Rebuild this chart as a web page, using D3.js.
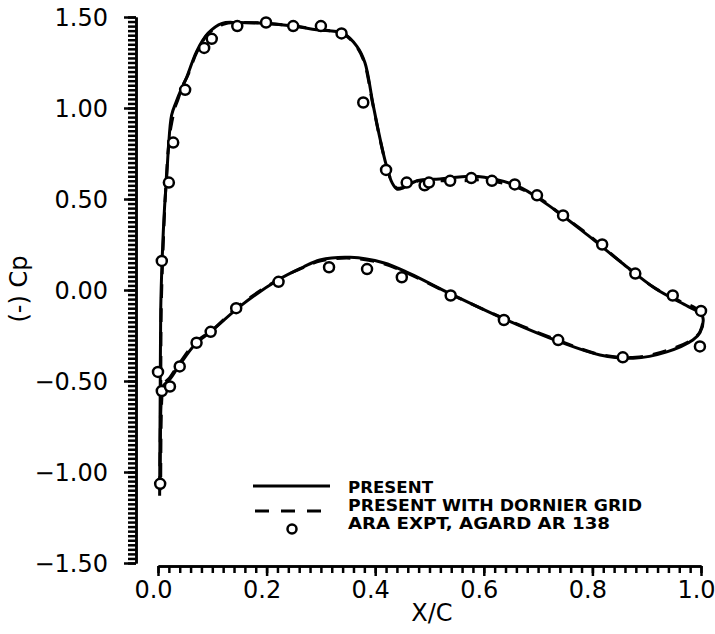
<!DOCTYPE html>
<html>
<head>
<meta charset="utf-8">
<script src="https://cdn.jsdelivr.net/npm/d3@7"></script>
<style>
  body { margin: 0; background: #fff; }
  svg { display: block; }
  .axis path, .axis line { stroke: #000; stroke-width: 2.5px; }
  .axis text { font-family: "DejaVu Sans", sans-serif; font-size: 24px; fill: #000; }
  .legend text { font-family: "Liberation Sans Narrow", "DejaVu Sans Condensed", sans-serif; font-weight: bold; font-size: 15px; }
</style>
</head>
<body>
<svg id="chart"></svg>
<script>
var w = 715;
var h = 634;

// PRESENT (solid) : from stagnation point up the upper surface, round the TE, back along the lower surface
var presentPts = [[0.003,-1.13],[0.004,-0.60],[0.005,-0.11],[0.0075,0.155],[0.012,0.45],[0.016,0.62],
  [0.019,0.77],[0.025,0.96],[0.033,1.03],[0.041,1.09],[0.053,1.17],[0.071,1.31],[0.092,1.41],[0.118,1.465],
  [0.145,1.47],[0.194,1.465],[0.249,1.45],[0.292,1.43],[0.341,1.41],[0.366,1.34],[0.381,1.25],[0.396,1.02],
  [0.409,0.83],[0.420,0.69],[0.431,0.59],[0.440,0.555],[0.451,0.56],[0.477,0.60],[0.519,0.61],[0.578,0.625],
  [0.626,0.605],[0.670,0.56],[0.731,0.44],[0.792,0.30],[0.854,0.15],[0.915,0.01],[0.976,-0.09],[1.0,-0.13],
  [1.004,-0.16],[0.998,-0.235],[0.985,-0.275],[0.937,-0.34],[0.875,-0.375],[0.814,-0.357],[0.740,-0.285],
  [0.642,-0.165],[0.538,-0.02],[0.464,0.09],[0.415,0.15],[0.354,0.18],[0.298,0.165],[0.267,0.125],
  [0.221,0.055],[0.151,-0.09],[0.097,-0.23],[0.071,-0.29],[0.040,-0.41],[0.022,-0.49],[0.009,-0.53],
  [0.006,-0.60],[0.004,-1.10]];

// PRESENT WITH DORNIER GRID (dashed)
var dornierPts = [[0.003,-1.10],[0.005,-0.55],[0.006,-0.1],[0.009,0.2],[0.015,0.6],[0.021,0.84],[0.026,0.93],
  [0.031,1.0],[0.036,1.04],[0.045,1.12],[0.055,1.18],[0.072,1.31],[0.093,1.41],[0.12,1.46],[0.15,1.47],
  [0.2,1.465],[0.25,1.45],[0.3,1.43],[0.34,1.41],[0.365,1.34],[0.38,1.25],[0.395,1.03],[0.408,0.84],
  [0.42,0.69],[0.43,0.6],[0.44,0.56],[0.452,0.565],[0.48,0.6],[0.52,0.6],[0.56,0.6],[0.6,0.605],[0.63,0.59],
  [0.66,0.565],[0.7,0.51],[0.74,0.42],[0.79,0.31],[0.85,0.16],[0.91,0.02],[0.96,-0.06],[0.99,-0.1],
  [1.003,-0.15],[0.998,-0.23],[0.985,-0.27],[0.94,-0.33],[0.88,-0.37],[0.815,-0.355],[0.74,-0.28],
  [0.64,-0.16],[0.54,-0.025],[0.465,0.085],[0.415,0.145],[0.355,0.175],[0.3,0.16],[0.265,0.12],[0.22,0.055],
  [0.15,-0.085],[0.1,-0.22],[0.07,-0.285],[0.04,-0.4],[0.022,-0.48],[0.01,-0.52],[0.007,-0.6],[0.005,-1.08]];

// ARA EXPT, AGARD AR 138
var exptUpper = [[0.007,0.16],[0.020,0.59],[0.028,0.81],[0.050,1.10],[0.085,1.33],[0.099,1.38],[0.146,1.45],
  [0.199,1.47],[0.249,1.45],[0.300,1.45],[0.338,1.41],[0.378,1.03],[0.420,0.66],[0.458,0.59],[0.491,0.575],
  [0.499,0.59],[0.538,0.60],[0.577,0.615],[0.615,0.60],[0.657,0.58],[0.698,0.52],[0.746,0.41],[0.818,0.25],
  [0.879,0.09],[0.948,-0.03],[1.0,-0.115]];
var exptLower = [[0.0,-0.45],[0.007,-0.555],[0.022,-0.53],[0.040,-0.42],[0.071,-0.29],[0.097,-0.23],
  [0.144,-0.10],[0.222,0.045],[0.315,0.125],[0.385,0.115],[0.449,0.07],[0.539,-0.03],[0.637,-0.165],
  [0.737,-0.275],[0.856,-0.37],[0.998,-0.31],[0.004,-1.065]];

var xMajor = [0, 0.2, 0.4, 0.6, 0.8, 1.0];
var yMajor = [-1.5, -1.0, -0.5, 0, 0.5, 1.0, 1.5];
var legendLabels = ["PRESENT", "PRESENT WITH DORNIER GRID", "ARA EXPT, AGARD AR 138"];

var x = d3.scaleLinear().domain([0, 1]).range([158, 701]);
var y = d3.scaleLinear().domain([-1.5, 1.5]).range([563, 17]);

var svg = d3.select("#chart").attr("width", w).attr("height", h);

// minor ticks
var xMinor = d3.range(0, 1.0001, 0.02);
var yMinor = d3.range(-1.5, 1.5001, 0.025);

svg.append("g").attr("class", "axis").attr("transform", "translate(0,566)")
  .call(d3.axisBottom(x).tickValues(xMinor).tickSize(7).tickSizeOuter(0).tickFormat(""));
var gX = svg.append("g").attr("class", "axis").attr("transform", "translate(0,566)")
  .call(d3.axisBottom(x).tickValues(xMajor).tickSize(10).tickSizeOuter(0).tickPadding(5).tickFormat(d3.format(".1f")));
gX.selectAll("text").attr("dx", -5);

svg.append("g").attr("class", "axis").attr("transform", "translate(136,0)")
  .call(d3.axisLeft(y).tickValues(yMinor).tickSize(8).tickSizeOuter(0).tickFormat(""));
var gY = svg.append("g").attr("class", "axis").attr("transform", "translate(136,0)")
  .call(d3.axisLeft(y).tickValues(yMajor).tickSize(12).tickSizeOuter(0).tickPadding(16).tickFormat(d3.format(".2f")));
gY.selectAll("text").attr("dy", "0.37em");

// axis titles
svg.append("text").attr("x", 432).attr("y", 621).attr("text-anchor", "middle")
  .style("font-family", "DejaVu Sans, sans-serif").style("font-size", "24px").text("X/C");
svg.append("text").attr("transform", "translate(27,289) rotate(-90)").attr("text-anchor", "middle")
  .style("font-family", "DejaVu Sans, sans-serif").style("font-size", "24px").text("(-) Cp");

var line = d3.line().x(function(d) { return x(d[0]); }).y(function(d) { return y(d[1]); })
  .curve(d3.curveCatmullRom.alpha(0.5));

svg.append("path").attr("d", line(dornierPts)).attr("fill", "none").attr("stroke", "#000")
  .attr("stroke-width", 3).attr("stroke-dasharray", "14,10");
svg.append("path").attr("d", line(presentPts)).attr("fill", "none").attr("stroke", "#000")
  .attr("stroke-width", 3);

svg.selectAll("circle.expt").data(exptUpper.concat(exptLower)).enter().append("circle")
  .attr("class", "expt")
  .attr("cx", function(d) { return x(d[0]); })
  .attr("cy", function(d) { return y(d[1]); })
  .attr("r", 5).attr("fill", "#fff").attr("stroke", "#000").attr("stroke-width", 2.5);

// legend
var lg = svg.append("g").attr("class", "legend");
lg.append("line").attr("x1", 253).attr("x2", 330).attr("y1", 486).attr("y2", 486)
  .attr("stroke", "#000").attr("stroke-width", 3);
lg.append("line").attr("x1", 255).attr("x2", 328).attr("y1", 511).attr("y2", 511)
  .attr("stroke", "#000").attr("stroke-width", 3).attr("stroke-dasharray", "14,12");
lg.append("circle").attr("cx", 292).attr("cy", 529).attr("r", 4.5)
  .attr("fill", "#fff").attr("stroke", "#000").attr("stroke-width", 2.5);
var textLens = [85, 294, 262];
lg.selectAll("text").data(legendLabels).enter().append("text")
  .attr("x", 348)
  .attr("y", function(d, i) { return 493 + i * 18; })
  .attr("textLength", function(d, i) { return textLens[i]; })
  .attr("lengthAdjust", "spacingAndGlyphs")
  .text(function(d) { return d; });
</script>
</body>
</html>
